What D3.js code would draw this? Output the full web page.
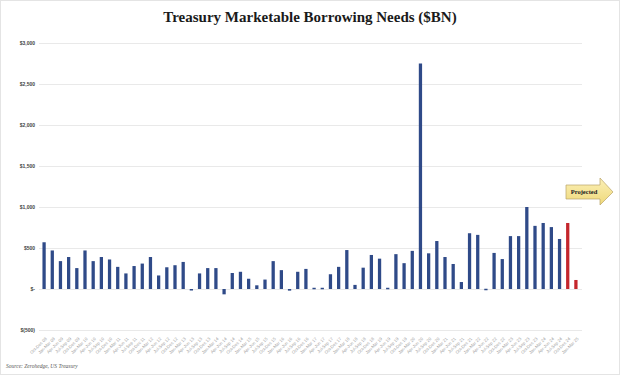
<!DOCTYPE html>
<html>
<head>
<meta charset="utf-8">
<script src="https://cdn.jsdelivr.net/npm/d3@7"></script>
<style>
  body { margin: 0; background: #fff; }
  svg { display: block; }
</style>
</head>
<body>
<script>
const quarters = [
  'Oct-Dec 08',
  'Jan-Mar 09', 'Apr-Jun 09', 'Jul-Sep 09', 'Oct-Dec 09',
  'Jan-Mar 10', 'Apr-Jun 10', 'Jul-Sep 10', 'Oct-Dec 10',
  'Jan-Mar 11', 'Apr-Jun 11', 'Jul-Sep 11', 'Oct-Dec 11',
  'Jan-Mar 12', 'Apr-Jun 12', 'Jul-Sep 12', 'Oct-Dec 12',
  'Jan-Mar 13', 'Apr-Jun 13', 'Jul-Sep 13', 'Oct-Dec 13',
  'Jan-Mar 14', 'Apr-Jun 14', 'Jul-Sep 14', 'Oct-Dec 14',
  'Jan-Mar 15', 'Apr-Jun 15', 'Jul-Sep 15', 'Oct-Dec 15',
  'Jan-Mar 16', 'Apr-Jun 16', 'Jul-Sep 16', 'Oct-Dec 16',
  'Jan-Mar 17', 'Apr-Jun 17', 'Jul-Sep 17', 'Oct-Dec 17',
  'Jan-Mar 18', 'Apr-Jun 18', 'Jul-Sep 18', 'Oct-Dec 18',
  'Jan-Mar 19', 'Apr-Jun 19', 'Jul-Sep 19', 'Oct-Dec 19',
  'Jan-Mar 20', 'Apr-Jun 20', 'Jul-Sep 20', 'Oct-Dec 20',
  'Jan-Mar 21', 'Apr-Jun 21', 'Jul-Sep 21', 'Oct-Dec 21',
  'Jan-Mar 22', 'Apr-Jun 22', 'Jul-Sep 22', 'Oct-Dec 22',
  'Jan-Mar 23', 'Apr-Jun 23', 'Jul-Sep 23', 'Oct-Dec 23',
  'Jan-Mar 24', 'Apr-Jun 24', 'Jul-Sep 24', 'Oct-Dec 24',
  'Jan-Mar 25'
];

// $BN
const borrowing = [
  570, 470, 340, 390, 255, 470, 340, 390, 360, 270,
  190, 280, 310, 390, 165, 265, 290, 330, -15, 190,
  255, 255, -65, 195, 210, 125, 45, 115, 340, 230,
  -20, 210, 245, 15, 15, 180, 270, 475, 50, 260,
  415, 370, 15, 425, 315, 465, 2750, 435, 585, 390,
  305, 85, 680, 660, 3, 440, 365, 645, 645, 1000,
  770, 805, 755, 610, 805, 110
];
const projectedCount = 2;

const yTicks = [-500, 0, 500, 1000, 1500, 2000, 2500, 3000];

const width = 620;
const height = 375;
const blue = '#2f4a88';
const red = '#c4262c';

const data = quarters.map((q, i) => ({
  q,
  v: borrowing[i],
  projected: i >= quarters.length - projectedCount
}));

const svg = d3.select('body')
  .append('svg')
  .attr('width', width)
  .attr('height', height);

svg.append('rect')
  .attr('x', 0.5).attr('y', 0.5)
  .attr('width', width - 1).attr('height', height - 1)
  .attr('fill', '#fff')
  .attr('stroke', '#e4e4e4');

svg.append('text')
  .attr('x', 310)
  .attr('y', 22)
  .attr('text-anchor', 'middle')
  .style('font-family', '"Liberation Serif", serif')
  .style('font-weight', 'bold')
  .style('font-size', '15px')
  .attr('fill', '#1a1a1a')
  .text('Treasury Marketable Borrowing Needs ($BN)');

const x = d3.scaleBand()
  .domain(quarters)
  .range([40, 580])
  .paddingInner(0.6)
  .paddingOuter(0.3);

const y = d3.scaleLinear()
  .domain([-500, 3000])
  .range([330, 43]);

const fmt = v => {
  if (v === 0) return '$-';
  if (v < 0) return '$(' + d3.format(',')(-v) + ')';
  return '$' + d3.format(',')(v);
};

// gridlines + y labels
const yAxis = d3.axisLeft(y)
  .tickValues(yTicks)
  .tickSize(-(582 - 39))
  .tickPadding(4)
  .tickFormat(fmt);

svg.append('g')
  .attr('transform', 'translate(39,0)')
  .call(yAxis)
  .call(g => g.select('.domain').remove())
  .call(g => g.selectAll('.tick line').attr('stroke', '#e3e3e3').attr('stroke-width', 0.8))
  .call(g => g.selectAll('.tick text')
    .attr('fill', '#444')
    .style('font-family', '"Liberation Sans", sans-serif')
    .style('font-weight', 'bold')
    .style('font-size', '5px'));

// bars
svg.append('g')
  .selectAll('rect')
  .data(data)
  .join('rect')
  .attr('x', d => x(d.q))
  .attr('width', x.bandwidth())
  .attr('y', d => y(Math.max(0, d.v)))
  .attr('height', d => Math.max(1.5, Math.abs(y(d.v) - y(0))))
  .attr('fill', d => (d.projected ? red : blue));

// x labels along the bottom
const xAxis = d3.axisBottom(x).tickSize(0).tickPadding(0);
svg.append('g')
  .attr('transform', 'translate(0,337)')
  .call(xAxis)
  .call(g => g.select('.domain').remove())
  .call(g => g.selectAll('.tick text')
    .attr('text-anchor', 'end')
    .attr('dy', 0)
    .attr('y', 0)
    .attr('x', 0)
    .attr('transform', 'translate(3,2) rotate(-45)')
    .attr('fill', '#a0a0a0')
    .style('font-family', '"Liberation Sans", sans-serif')
    .style('font-size', '4.3px'));

// Projected arrow
const arrow = svg.append('g');
const defs = svg.append('defs');
const grad = defs.append('linearGradient')
  .attr('id', 'arrowFill')
  .attr('x1', 0).attr('y1', 0).attr('x2', 0).attr('y2', 1);
grad.append('stop').attr('offset', '0%').attr('stop-color', '#fbf0b8');
grad.append('stop').attr('offset', '100%').attr('stop-color', '#efd97a');

arrow.append('path')
  .attr('d', d3.line()([[566, 185], [600, 185], [600, 178], [613, 192], [600, 205], [600, 199], [566, 199]]) + 'Z')
  .attr('fill', 'url(#arrowFill)')
  .attr('stroke', '#b9a468')
  .attr('stroke-width', 0.7);

arrow.append('text')
  .attr('x', 584)
  .attr('y', 194)
  .attr('text-anchor', 'middle')
  .style('font-family', '"Liberation Serif", serif')
  .style('font-weight', 'bold')
  .style('font-size', '6.5px')
  .attr('fill', '#222')
  .text('Projected');

svg.append('text')
  .attr('x', 6)
  .attr('y', 368)
  .style('font-family', '"Liberation Serif", serif')
  .style('font-style', 'italic')
  .style('font-size', '5.5px')
  .attr('fill', '#555')
  .text('Source: Zerohedge, US Treasury');
</script>
</body>
</html>
